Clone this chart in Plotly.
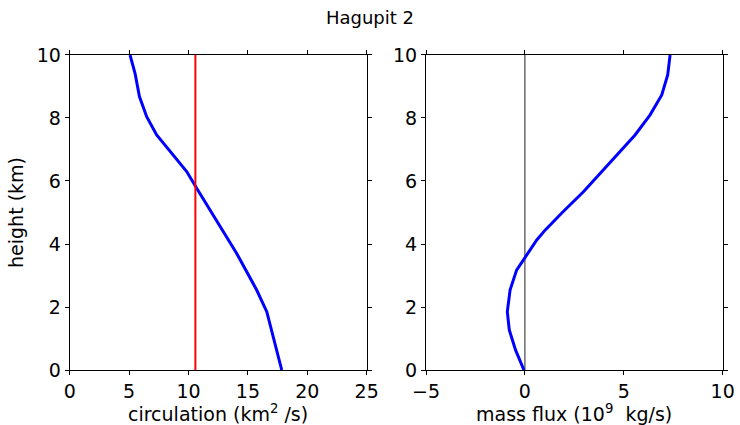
import plotly.graph_objects as go

height_circ = [10, 9.42, 8.68, 8.04, 7.46, 6.83, 6.3, 5.77, 4.76, 3.7, 2.54, 1.85, 0]
circulation = [5.08, 5.5, 5.87, 6.48, 7.32, 8.73, 9.85, 10.69, 12.37, 14.06, 15.74, 16.59, 17.85]
mean_circ = 10.58

height_flux = [10, 9.37, 8.73, 8.1, 7.46, 6.83, 6.24, 5.66, 5.03, 4.44, 4.13, 3.54, 3.17, 2.54, 1.85, 1.27, 0.63, 0]
mass_flux = [7.34, 7.22, 6.92, 6.33, 5.57, 4.64, 3.8, 2.96, 1.94, 1.02, 0.6, 0.0, -0.42, -0.75, -0.89, -0.79, -0.47, -0.05]

title = "Hagupit 2"
x1_title = "circulation (km<sup>2</sup> /s)"
x2_title = "mass flux (10<sup>9</sup>  kg/s)"
y_title = "height (km)"
FONT = "DejaVu Sans"

fig = go.Figure()
fig.add_trace(go.Scatter(x=circulation, y=height_circ, mode="lines",
                         line=dict(color="blue", width=3), xaxis="x", yaxis="y", showlegend=False))
fig.add_trace(go.Scatter(x=[mean_circ, mean_circ], y=[0, 10], mode="lines",
                         line=dict(color="red", width=2), xaxis="x", yaxis="y", showlegend=False))
fig.add_trace(go.Scatter(x=[0, 0], y=[0, 10], mode="lines",
                         line=dict(color="#222222", width=1), xaxis="x2", yaxis="y2", showlegend=False))
fig.add_trace(go.Scatter(x=mass_flux, y=height_flux, mode="lines",
                         line=dict(color="blue", width=3), xaxis="x2", yaxis="y2", showlegend=False))

ax = dict(showgrid=False, zeroline=False, showline=True, linecolor="black", linewidth=1,
          mirror="ticks", ticks="outside", ticklen=4, tickcolor="black", automargin=False,
          tickfont=dict(size=19, color="black", family=FONT))

xd1 = [0.0942, 0.4955]
xd2 = [0.5757, 0.9766]
title_y = 1 - 413 / 425

fig.update_layout(
    width=740, height=425,
    margin=dict(l=0, r=0, t=0, b=0),
    paper_bgcolor="white", plot_bgcolor="white",
    font=dict(family=FONT, color="black"),
    title=dict(text=title, x=0.5, xanchor="center", y=1 - 18 / 425, yanchor="middle",
               font=dict(size=18, family=FONT, color="black")),
    xaxis=dict(ax, domain=xd1, range=[0, 25], tickvals=[0, 5, 10, 15, 20, 25], anchor="y"),
    yaxis=dict(ax, domain=[0.1294, 0.8706], range=[0, 10], tickvals=[0, 2, 4, 6, 8, 10],
               title=dict(text=y_title, font=dict(size=19), standoff=8), anchor="x"),
    xaxis2=dict(ax, domain=xd2, range=[-5, 10], tickvals=[-5, 0, 5, 10],
                ticktext=["\u22125", "0", "5", "10"], anchor="y2"),
    yaxis2=dict(ax, domain=[0.1294, 0.8706], range=[0, 10], tickvals=[0, 2, 4, 6, 8, 10], anchor="x2"),
    annotations=[
        dict(text=x1_title, x=(xd1[0] + xd1[1]) / 2, y=title_y, xref="paper", yref="paper",
             xanchor="center", yanchor="middle", showarrow=False, font=dict(size=19, family=FONT)),
        dict(text=x2_title, x=(xd2[0] + xd2[1]) / 2, y=title_y, xref="paper", yref="paper",
             xanchor="center", yanchor="middle", showarrow=False, font=dict(size=19, family=FONT)),
    ],
)

fig.write_html("out.html")
